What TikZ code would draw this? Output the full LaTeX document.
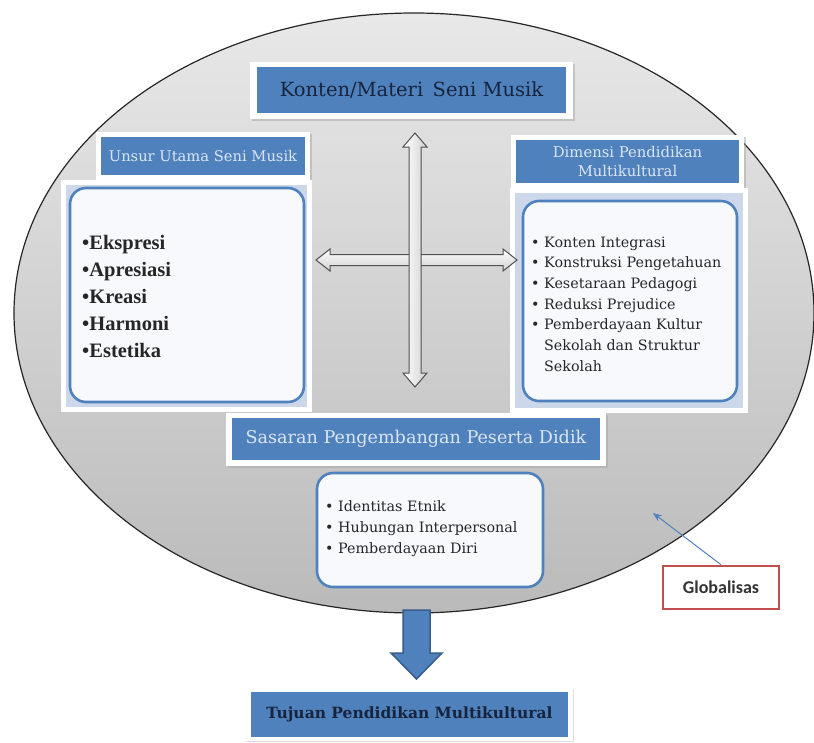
\documentclass[tikz,border=0pt]{standalone}
\usepackage{fontspec}
\setmainfont{DejaVu Serif}
\newfontfamily\tnrfont{Liberation Serif}
\newfontfamily\califont{Carlito}
\usetikzlibrary{shadows,arrows.meta,calc}
\definecolor{hblue}{HTML}{4F81BD}
\definecolor{hblueD}{HTML}{385D8A}
\definecolor{htext}{HTML}{DCE6F2}
\definecolor{navy}{HTML}{17243D}
\definecolor{frameblue}{HTML}{CCD8EA}
\definecolor{boxfill}{HTML}{F8F9FC}
\definecolor{redb}{HTML}{C0504D}
\definecolor{arrg}{HTML}{505050}
\tikzset{
  whiteframe/.style={fill=white, drop shadow={shadow xshift=1.5pt, shadow yshift=-1.5pt, fill=black!35, opacity=0.5}},
  bluehead/.style={fill=hblue, inner sep=0pt, align=center, font=\fontsize{15}{19}\selectfont, text=htext},
  roundbox/.style={draw=hblue, line width=2.6pt, rounded corners=16pt, fill=boxfill, inner sep=0pt},
  outerframe/.style={fill=frameblue},
  dblarrow/.style={draw=arrg, line width=1pt, top color=white, bottom color=black!18, line join=miter},
  itemtext/.style={anchor=west, align=left, inner sep=0pt, text=black!85}
}
\begin{document}
\begin{tikzpicture}[x=1pt,y=-1pt]
\useasboundingbox (0,0) rectangle (814,742);
% oval background
\shade[top color=black!9, bottom color=black!27, draw=black!85, line width=1.2pt]
  (414,313) ellipse [x radius=400, y radius=300];

% top box
\fill[whiteframe] (250,62) rectangle (573,119);
\node[bluehead, minimum width=309pt, minimum height=46pt, text=navy, font=\fontsize{19.5}{23}\selectfont] (konten) at (411.5,90) {Konten/Materi\, Seni Musik};

% left header
\fill[whiteframe] (96,132) rectangle (310,180);
\node[bluehead, minimum width=204pt, minimum height=38pt, font=\fontsize{14.7}{19}\selectfont] (unsur) at (203,156) {Unsur Utama Seni Musik};

% left rounded box
\fill[white] (61,180) rectangle (312,412);
\fill[outerframe] (66,185) rectangle (307,407);
\node[roundbox, minimum width=234pt, minimum height=214pt] (leftbox) at (187,295) {};
\node[itemtext, font=\tnrfont\bfseries\fontsize{20.5}{27}\selectfont] (leftitems) at (82,296)
  {\textbullet Ekspresi\\ \textbullet Apresiasi\\ \textbullet Kreasi\\ \textbullet Harmoni\\ \textbullet Estetika};

% right header
\fill[whiteframe] (511,135) rectangle (744,188);
\node[bluehead, minimum width=223pt, minimum height=43pt, font=\fontsize{14.8}{19}\selectfont] (dimensi) at (627.5,161.5) {Dimensi Pendidikan\\Multikultural};

% right rounded box
\fill[white] (510,188) rectangle (748,413);
\fill[outerframe] (515,193) rectangle (743,408);
\node[roundbox, minimum width=214pt, minimum height=200pt] (rightbox) at (630,301) {};
\node[itemtext, font=\fontsize{14.3}{20.7}\selectfont] (rightitems) at (531,304)
  {\textbullet\ Konten Integrasi\\ \textbullet\ Konstruksi Pengetahuan\\ \textbullet\ Kesetaraan Pedagogi\\ \textbullet\ Reduksi Prejudice\\ \textbullet\ Pemberdayaan Kultur\\ \phantom{\textbullet\ }Sekolah dan Struktur\\ \phantom{\textbullet\ }Sekolah};

% cross double arrows
\coordinate (hl) at (316,260);
\coordinate (hr) at (517,260);
\coordinate (vt) at (415,133);
\coordinate (vb) at (415,387);
\path[dblarrow] (hl) -- ++(14,-11) -- ++(0,5.5) -- ($(hr)+(-14,-5.5)$) -- ++(0,-5.5) -- (hr) -- ++(-14,11) -- ++(0,-5.5) -- ($(hl)+(14,5.5)$) -- ++(0,5.5) -- cycle;
\path[dblarrow, left color=white, right color=black!18] (vt) -- ++(12,14) -- ++(-6,0) -- ($(vb)+(6,-14)$) -- ++(6,0) -- (vb) -- ++(-12,-14) -- ++(6,0) -- ($(vt)+(-6,14)$) -- ++(-6,0) -- cycle;

% Sasaran header
\fill[whiteframe] (226,413) rectangle (606,466);
\node[bluehead, minimum width=368pt, minimum height=42pt, font=\fontsize{17.6}{22}\selectfont] (sasaran) at (416,439) {Sasaran Pengembangan Peserta Didik};

% bottom rounded box
\node[roundbox, minimum width=226pt, minimum height=114pt] (botbox) at (430,530) {};
\node[itemtext, font=\fontsize{14.3}{21}\selectfont] (botitems) at (325,529)
  {\textbullet\ Identitas Etnik\\ \textbullet\ Hubungan Interpersonal\\ \textbullet\ Pemberdayaan Diri};

% Globalisas
\node[draw=redb, line width=2.6pt, fill=white, minimum width=116pt, minimum height=43pt, font=\califont\bfseries\fontsize{18}{20}\selectfont, text=black!80] (glob) at (721,587.5) {Globalisas};
\coordinate (globtip) at (653,513);
\draw[hblue, line width=1pt, -{Stealth[length=9pt,width=7pt]}] (glob.north) -- (globtip);

% down arrow
\coordinate (dtop) at (416.5,610);
\coordinate (dtip) at (416.5,679);
\path[fill=hblue, draw=hblueD, line width=1.5pt, line join=miter] ($(dtop)+(-13.5,0)$) -- ($(dtop)+(13.5,0)$) -- ++(0,43) -- ++(12,0) -- (dtip) -- ++(-25.5,-26) -- ++(12,0) -- cycle;

% Tujuan
\fill[white, drop shadow={shadow xshift=1pt, shadow yshift=-1pt, fill=black!25, opacity=0.5}] (245,688) rectangle (573,741);
\node[bluehead, minimum width=317pt, minimum height=45pt, text=navy, font=\bfseries\fontsize{15.5}{19}\selectfont] (tujuan) at (409.5,714.5) {Tujuan Pendidikan Multikultural};
\end{tikzpicture}
\end{document}
